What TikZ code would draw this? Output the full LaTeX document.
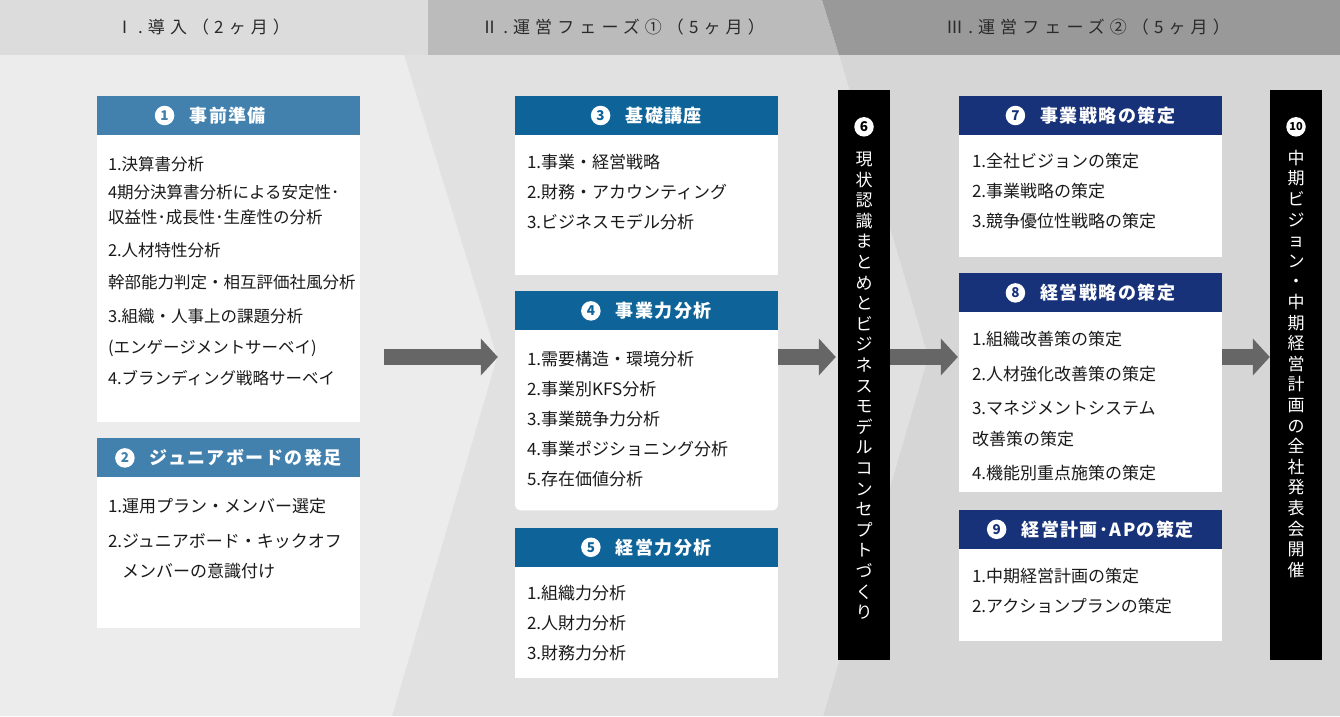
\documentclass[tikz,border=0pt]{standalone}
\usepackage{fontspec}
\setmainfont{Noto Sans CJK JP}
\newfontfamily\phasefont{Noto Sans CJK JP}[LetterSpace=30]
\newfontfamily\titlefont{Noto Sans CJK JP}[LetterSpace=8]
\usepackage{tikz}
\usetikzlibrary{arrows.meta,positioning,calc}

\definecolor{hdrI}{HTML}{DCDCDC}
\definecolor{hdrII}{HTML}{BBBBBB}
\definecolor{hdrIII}{HTML}{999999}
\definecolor{bodyI}{HTML}{ECECEC}
\definecolor{bodyII}{HTML}{E1E1E1}
\definecolor{bodyIII}{HTML}{D6D6D6}
\definecolor{blueA}{HTML}{4281AE}
\definecolor{blueB}{HTML}{0E6499}
\definecolor{navy}{HTML}{173278}
\definecolor{flowgray}{HTML}{666666}
\definecolor{ink}{HTML}{1A1A1A}
\definecolor{phasetext}{HTML}{2A2A2A}

\begin{document}
\begin{tikzpicture}[
    x=1pt, y=-1pt,
    card/.style={fill=white, minimum width=263pt, inner sep=0pt},
    cardtitle/.style={
        minimum width=263pt, minimum height=39pt, inner sep=0pt,
        text=white, font=\titlefont\bfseries\fontsize{18}{18}\selectfont
    },
    badge/.style={
        circle, fill=white, minimum size=19.5pt, inner sep=0pt,
        font=\bfseries\fontsize{13.5}{13.5}\selectfont
    },
    items/.style={
        anchor=north west, inner sep=0pt, align=left, text=ink,
        font=\fontsize{17}{30}\selectfont
    },
    stage/.style={fill=black, minimum width=52pt, minimum height=570pt, inner sep=0pt},
    vlabel/.style={
        anchor=north, inner sep=0pt, align=center, text=white,
        font=\fontsize{17}{20.6}\selectfont
    },
    phase/.style={text=phasetext, font=\phasefont\fontsize{17}{17}\selectfont},
    flow/.style={draw=flowgray, line width=16pt, -{Triangle[length=17pt,width=36pt]}},
    node distance=16pt
]
\useasboundingbox (0,0) rectangle (1340,716);

% phase bands
\fill[hdrI] (0,0) rectangle (428,55);
\fill[hdrII] (428,0) -- (822,0) -- (839,55) -- (428,55) -- cycle;
\fill[hdrIII] (822,0) -- (1340,0) -- (1340,55) -- (839,55) -- cycle;
\fill[bodyI] (0,55) -- (404,55) -- (497,357) -- (392,716) -- (0,716) -- cycle;
\fill[bodyII] (404,55) -- (839,55) -- (928,357) -- (823,716) -- (392,716) -- (497,357) -- cycle;
\fill[bodyIII] (839,55) -- (1340,55) -- (1340,716) -- (823,716) -- (928,357) -- cycle;

\node[phase] (phaseI) at (203,27) {Ⅰ.導入（2ヶ月）};
\node[phase] (phaseII) at (623,27) {Ⅱ.運営フェーズ①（5ヶ月）};
\node[phase] (phaseIII) at (1088,27) {Ⅲ.運営フェーズ②（5ヶ月）};

% column I
\node[card, minimum height=326pt] (prep) at (228.5,259) {};
\node[cardtitle, fill=blueA, anchor=north] (preptitle) at (prep.north) {\hspace*{34.5pt}事前準備\hspace*{36pt}};
\node[badge, text=blueA] (prepno) at ($(preptitle.text |- preptitle.center)+(9.5,0)$) {1};
\node[items, font=\fontsize{16.5}{30}\selectfont] (preptext) at ($(preptitle.south west)+(11,21)$)
  {1.決算書分析\\[-2pt]
   4期分決算書分析による安定性･\\[-5pt]
   収益性･成長性･生産性の分析\\[3pt]
   2.人材特性分析\\[2pt]
   幹部能力判定・相互評価社風分析\\[4pt]
   3.組織・人事上の課題分析\\[1pt]
   (エンゲージメントサーベイ)\\[1pt]
   4.ブランディング戦略サーベイ};

\node[card, minimum height=190pt, below=of prep] (junior) {};
\node[cardtitle, fill=blueA, anchor=north] (juniortitle) at (junior.north) {\hspace*{34.5pt}ジュニアボードの発足};
\node[badge, text=blueA] (juniorno) at ($(juniortitle.text |- juniortitle.center)+(9.5,0)$) {2};
\node[items] (juniortext) at ($(juniortitle.south west)+(11,20)$)
  {1.運用プラン・メンバー選定\\[5pt]
   2.ジュニアボード・キックオフ\\
   \hphantom{2.}メンバーの意識付け};

% column II
\node[card, minimum height=179pt] (basics) at (646.5,185.5) {};
\node[cardtitle, fill=blueB, anchor=north] (basicstitle) at (basics.north) {\hspace*{34.5pt}基礎講座};
\node[badge, text=blueB] (basicsno) at ($(basicstitle.text |- basicstitle.center)+(9.5,0)$) {3};
\node[items] (basicstext) at ($(basicstitle.south west)+(12,19)$)
  {1.事業・経営戦略\\
   2.財務・アカウンティング\\
   3.ビジネスモデル分析};

\node[card, minimum height=219pt, rounded corners=6pt, below=of basics] (bizpow) {};
\node[cardtitle, fill=blueB, anchor=north] (bizpowtitle) at (bizpow.north) {\hspace*{34.5pt}事業力分析};
\node[badge, text=blueB] (bizpowno) at ($(bizpowtitle.text |- bizpowtitle.center)+(9.5,0)$) {4};
\node[items] (bizpowtext) at ($(bizpowtitle.south west)+(12,20)$)
  {1.需要構造・環境分析\\
   2.事業別KFS分析\\
   3.事業競争力分析\\
   4.事業ポジショニング分析\\
   5.存在価値分析};

\node[card, minimum height=150pt, below=17pt of bizpow] (mgmtpow) {};
\node[cardtitle, fill=blueB, anchor=north] (mgmtpowtitle) at (mgmtpow.north) {\hspace*{34.5pt}経営力分析};
\node[badge, text=blueB] (mgmtpowno) at ($(mgmtpowtitle.text |- mgmtpowtitle.center)+(9.5,0)$) {5};
\node[items] (mgmtpowtext) at ($(mgmtpowtitle.south west)+(12,18)$)
  {1.組織力分析\\
   2.人財力分析\\
   3.財務力分析};

% stage 6
\node[stage] (current) at (864,375) {};
\node[badge, text=black] (currentno) at ($(current.north)+(0,37)$) {6};
\node[vlabel] (currenttext) at ($(current.north)+(0,62)$)
  {現\\状\\認\\識\\ま\\と\\め\\と\\ビ\\ジ\\ネ\\ス\\モ\\デ\\ル\\コ\\ン\\セ\\プ\\ト\\づ\\く\\り};

% column III
\node[card, minimum height=161pt] (bizstrat) at (1090.5,176.5) {};
\node[cardtitle, fill=navy, anchor=north] (bizstrattitle) at (bizstrat.north) {\hspace*{34.5pt}事業戦略の策定};
\node[badge, text=navy] (bizstratno) at ($(bizstrattitle.text |- bizstrattitle.center)+(9.5,0)$) {7};
\node[items] (bizstrattext) at ($(bizstrattitle.south west)+(13,18)$)
  {1.全社ビジョンの策定\\
   2.事業戦略の策定\\
   3.競争優位性戦略の策定};

\node[card, minimum height=219pt, below=of bizstrat] (mgmtstrat) {};
\node[cardtitle, fill=navy, anchor=north] (mgmtstrattitle) at (mgmtstrat.north) {\hspace*{34.5pt}経営戦略の策定};
\node[badge, text=navy] (mgmtstratno) at ($(mgmtstrattitle.text |- mgmtstrattitle.center)+(9.5,0)$) {8};
\node[items] (mgmtstrattext) at ($(mgmtstrattitle.south west)+(13,18)$)
  {1.組織改善策の策定\\[5pt]
   2.人材強化改善策の策定\\[4pt]
   3.マネジメントシステム\\[1pt]
   改善策の策定\\[4pt]
   4.機能別重点施策の策定};

\node[card, minimum height=131pt, below=17pt of mgmtstrat] (plan) {};
\node[cardtitle, fill=navy, anchor=north] (plantitle) at (plan.north) {\hspace*{34.5pt}経営計画･APの策定};
\node[badge, text=navy] (planno) at ($(plantitle.text |- plantitle.center)+(9.5,0)$) {9};
\node[items] (plantext) at ($(plantitle.south west)+(13,19)$)
  {1.中期経営計画の策定\\
   2.アクションプランの策定};

% stage 10
\node[stage] (launch) at (1296,375) {};
\node[badge, text=black, font=\bfseries\fontsize{11}{11}\selectfont] (launchno) at ($(launch.north)+(0,37)$) {10};
\node[vlabel] (launchtext) at ($(launch.north)+(0,60)$)
  {中\\期\\ビ\\ジ\\ョ\\ン\\・\\中\\期\\経\\営\\計\\画\\の\\全\\社\\発\\表\\会\\開\\催};

% flow arrows
\coordinate (mid) at (0,357);
\draw[flow] ($(prep.east |- mid)+(24,0)$) -- ($(bizpow.west |- mid)+(-17,0)$);
\draw[flow] (bizpow.east |- mid) -- ($(current.west |- mid)+(-2,0)$);
\draw[flow] (current.east |- mid) -- ($(mgmtstrat.west |- mid)+(-1,0)$);
\draw[flow] (mgmtstrat.east |- mid) -- (launch.west |- mid);
\end{tikzpicture}
\end{document}
